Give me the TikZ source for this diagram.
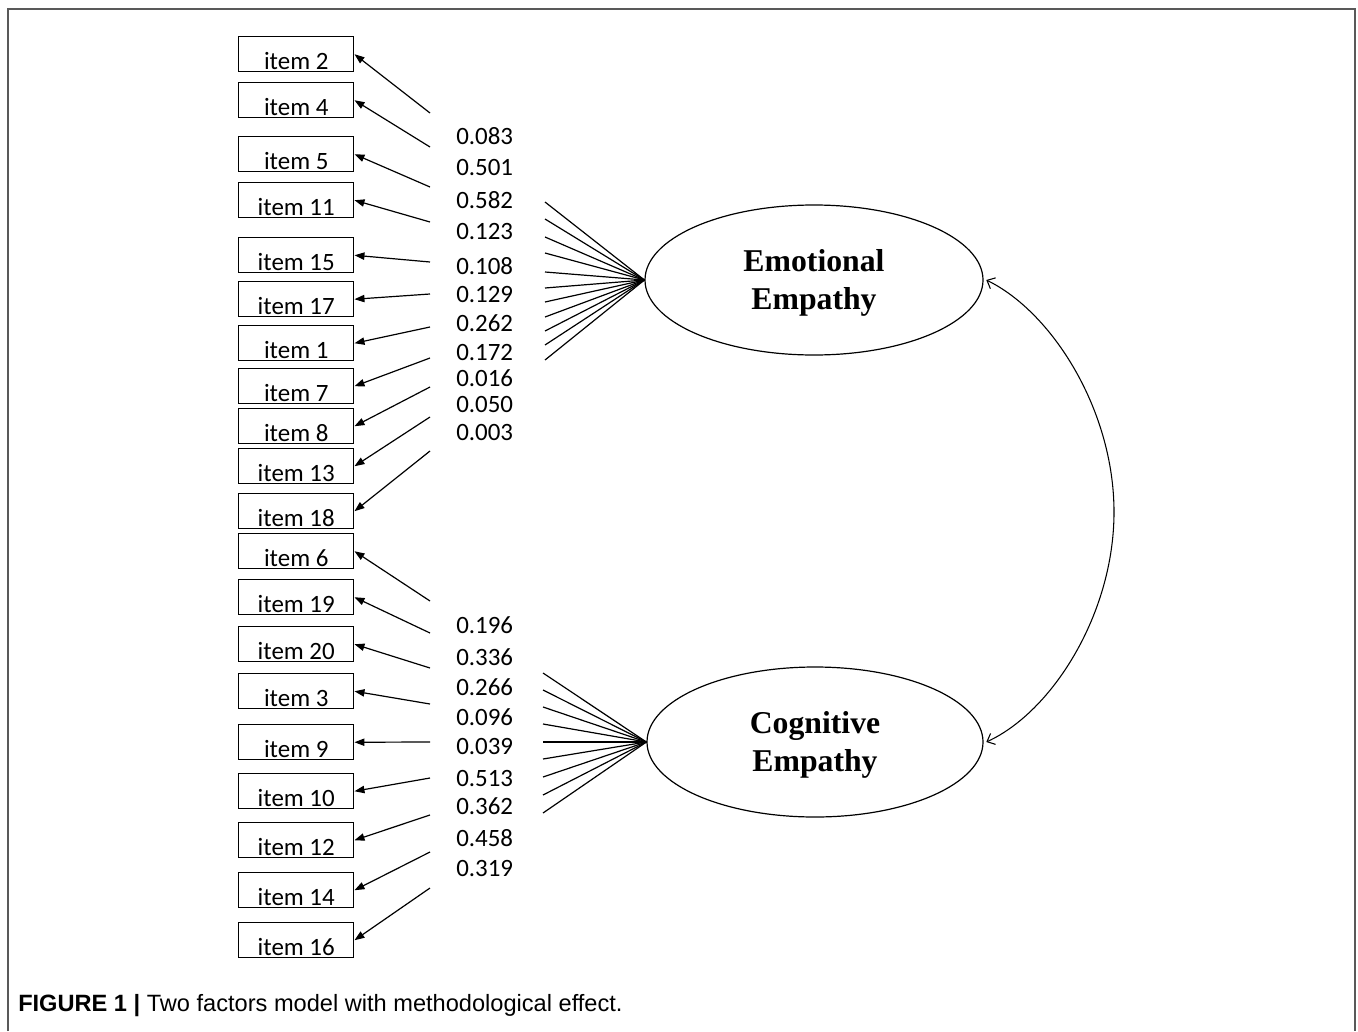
\documentclass[tikz,border=0pt]{standalone}
\usepackage{fontspec}
\setmainfont{Carlito}
\newfontfamily\factorfont{Liberation Serif}
\newfontfamily\capfont{Liberation Sans}
\usetikzlibrary{shapes.geometric,arrows.meta}
\begin{document}
\begin{tikzpicture}[x=0.75pt,y=-0.75pt,
  itembox/.style={draw, line width=1.1pt, minimum width=86.25pt, minimum height=26.25pt,
    inner sep=0pt, text height=24.6pt, text depth=1.65pt, anchor=north west,
    font=\fontsize{18.7}{20}\selectfont},
  numlabel/.style={anchor=west, inner sep=0pt, font=\fontsize{18.7}{20}\selectfont},
  loadarrow/.style={-{Triangle[length=7.5pt,width=5.5pt]}, line width=0.9pt},
  fan/.style={line width=0.9pt},
  factor/.style={ellipse, draw, line width=0.9pt, inner sep=0pt},
  factortext/.style={inner sep=0pt, align=center,
    font=\factorfont\bfseries\fontsize{23.8}{28.5}\selectfont},
  covar/.style={{Straight Barb[length=5pt,width=9pt]}-{Straight Barb[length=5pt,width=9pt]}, line width=0.8pt},
  frame/.style={draw=black!65, line width=1.2pt}
]
\useasboundingbox (0,0) rectangle (1358,1031);
\draw[frame] (8,1031) -- (8,9) -- (1355,9) -- (1355,1031);

% item boxes
\foreach \nm/\lab/\ty in {i2/2/36, i4/4/82, i5/5/136, i11/11/182, i15/15/237, i17/17/281,
  i1/1/325, i7/7/368, i8/8/408, i13/13/448, i18/18/493, i6/6/533, i19/19/579, i20/20/626,
  i3/3/673, i9/9/724, i10/10/773, i12/12/822, i14/14/872, i16/16/922}
  \node[itembox] (\nm) at (238,\ty) {item \lab};

% loading numbers
\foreach \v/\y [count=\k] in {0.083/136, 0.501/168, 0.582/200, 0.123/232, 0.108/266,
  0.129/295, 0.262/323, 0.172/353, 0.016/378, 0.050/405, 0.003/433,
  0.196/625, 0.336/657, 0.266/687, 0.096/717, 0.039/746, 0.513/778, 0.362/806,
  0.458/838, 0.319/868}
  \node[numlabel] (n\k) at (456,\y) {\v};

% factors
\node[factor, minimum width=253.5pt, minimum height=112.5pt] (EE) at (814,280) {};
\node[factortext] (EEt) at (814,283) {Emotional\\Empathy};
\node[factor, minimum width=252pt, minimum height=112.5pt] (CE) at (815,742) {};
\node[factortext] (CEt) at (815,745) {Cognitive\\Empathy};

% arrows to items
\foreach \nm/\y in {i2/113, i4/147, i5/187, i11/222, i15/262, i17/294, i1/327, i7/358,
  i8/387, i13/417, i18/451, i6/601, i19/633, i20/668, i3/704, i9/742, i10/778,
  i12/815, i14/852, i16/888}
{
  \coordinate (s\nm) at (430,\y);
  \draw[loadarrow] (s\nm) -- (\nm.east);
}

% fans
\foreach \y [count=\k] in {202,219,237,253,272,288,302,317,331,345,360}
{
  \coordinate (ef\k) at (545,\y);
  \draw[fan] (ef\k) -- (EE.west);
}
\foreach \y [count=\k] in {673,690,707,724,742,759,777,795,813}
{
  \coordinate (cf\k) at (543,\y);
  \draw[fan] (cf\k) -- (CE.west);
}

% covariance
\coordinate (cmid) at (1114,512);
\draw[covar] ([xshift=2pt]EE.east) .. controls (1052,312) and (1114,410) .. (cmid)
  .. controls (1114,614) and (1052,712) .. ([xshift=2pt]CE.east);

% caption
\node[anchor=west, inner sep=0pt, font=\capfont\fontsize{17.7}{20}\selectfont] (cap) at (18,1006)
  {\textbf{FIGURE 1 |} Two factors model with methodological effect.};
\end{tikzpicture}
\end{document}
